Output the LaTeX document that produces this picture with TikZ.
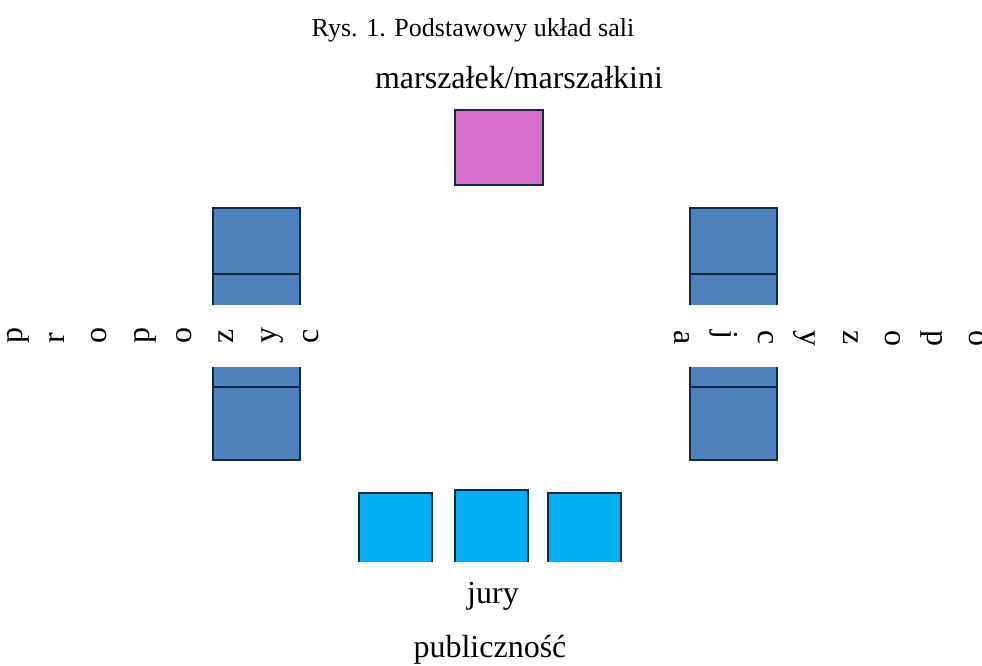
\documentclass[tikz,border=0pt]{standalone}
\usepackage{fontspec}
\setmainfont{Liberation Serif}
\definecolor{edge}{HTML}{13293D}
\definecolor{benchblue}{HTML}{4F81BD}
\definecolor{chairpink}{HTML}{D86ECB}
\definecolor{jurycyan}{HTML}{00B0F0}
\tikzset{
  seat/.style={rectangle, draw=edge, line width=2.8pt, inner sep=0pt},
  bench/.style={seat, fill=benchblue},
  chair/.style={seat, fill=chairpink},
  jurybox/.style={seat, fill=jurycyan},
  mask/.style={rectangle, fill=white, draw=none, inner sep=0pt},
  big/.style={font=\fontsize{32}{38}\selectfont, inner sep=0pt},
  letterL/.style={big, rotate=90, anchor=mid west},
  letterR/.style={big, rotate=-90, anchor=mid west},
}
\begin{document}
\begin{tikzpicture}[x=1pt, y=-1pt]
\useasboundingbox (0,0) rectangle (982,665);

% caption and chair
\node[font=\fontsize{26}{30}\selectfont, inner sep=0pt, anchor=base] (title) at (473,36) {Rys. 1. Podstawowy układ sali};
\node[big, anchor=base] (chairlabel) at (519,88) {marszałek/marszałkini};
\node[chair, minimum width=88pt, minimum height=75pt] (chair) at (499,147.5) {};

% left benches
\node[bench, minimum width=87pt, minimum height=66pt] (l1) at (256.5,241) {};
\node[bench, minimum width=87pt, minimum height=66pt] (l2) at (256.5,307) {};
\node[bench, minimum width=87pt, minimum height=66pt] (l3) at (256.5,354) {};
\node[bench, minimum width=87pt, minimum height=73pt] (l4) at (256.5,423.5) {};

% right benches
\node[bench, minimum width=87pt, minimum height=66pt] (r1) at (733.5,241) {};
\node[bench, minimum width=87pt, minimum height=66pt] (r2) at (733.5,307) {};
\node[bench, minimum width=87pt, minimum height=66pt] (r3) at (733.5,354) {};
\node[bench, minimum width=87pt, minimum height=73pt] (r4) at (733.5,423.5) {};

% jury tables
\node[jurybox, minimum width=73pt, minimum height=90pt] (j1) at (395.5,538) {};
\node[jurybox, minimum width=73pt, minimum height=93pt] (j2) at (491.5,536.5) {};
\node[jurybox, minimum width=73pt, minimum height=90pt] (j3) at (584.5,538) {};

% white text frames over the benches and tables
\node[mask, minimum width=340pt, minimum height=62pt] (maskL) at (170,336) {};
\node[mask, minimum width=330pt, minimum height=62pt] (maskR) at (817,336) {};
\node[mask, minimum width=300pt, minimum height=103pt] (maskJ) at (490,613.5) {};

% side labels, one letter per line
\foreach \ch [count=\i from 0] in {p,r,o,p,o,z,y,c}
  \node[letterL] (pl\i) at ({20+42.3*\i},344) {\ch};
\foreach \ch [count=\i from 0] in {o,p,o,z,y,c,j,a}
  \node[letterR] (op\i) at ({972-42.2*\i},330) {\ch};

% bottom labels
\node[big, anchor=base] (jury) at (493,603) {jury};
\node[big, anchor=base] (public) at (490,657) {publiczność};
\end{tikzpicture}
\end{document}
